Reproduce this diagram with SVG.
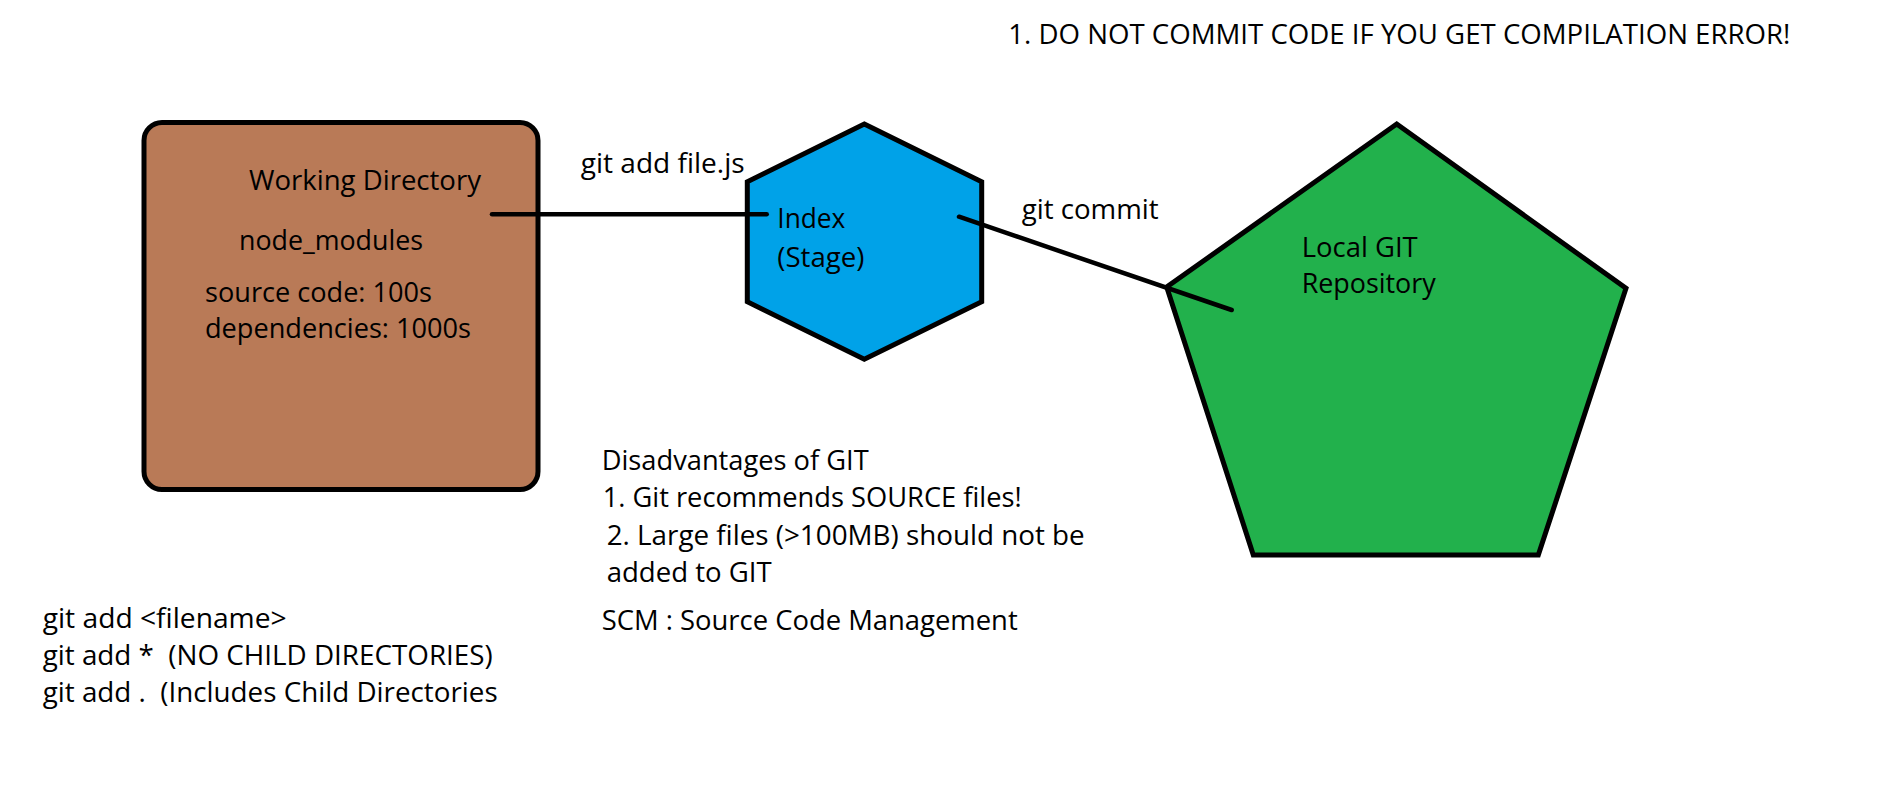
<svg xmlns="http://www.w3.org/2000/svg" width="1892" height="797" viewBox="0 0 1892 797">
<style>
  text { font-family: "Open Sans", "Noto Sans", "Liberation Sans", sans-serif; font-size: 26.5px; fill: #000; }
  .shape { stroke: #000; stroke-width: 5; stroke-linejoin: miter; }
  .conn { stroke: #000; stroke-width: 4.5; stroke-linecap: round; fill: none; }
</style>
<rect width="1892" height="797" fill="#fff"/>
<g id="working-directory">
  <rect class="shape" x="144" y="122.5" width="394" height="367" rx="18" ry="18" fill="#B97A57"/>
  <text x="249" y="190" textLength="232" lengthAdjust="spacingAndGlyphs">Working Directory</text>
  <text x="239" y="250" textLength="184" lengthAdjust="spacingAndGlyphs">node_modules</text>
  <text x="205" y="301.5" textLength="227" lengthAdjust="spacingAndGlyphs">source code: 100s</text>
  <text x="205" y="338" textLength="266" lengthAdjust="spacingAndGlyphs">dependencies: 1000s</text>
</g>
<g id="index-stage">
  <polygon class="shape" points="864.3,124 981.7,181.7 981.7,301.7 864.3,359.3 747.3,301.7 747.3,181.7" fill="#00A2E8"/>
  <text x="777.3" y="228.3" textLength="68" lengthAdjust="spacingAndGlyphs">Index</text>
  <text x="777.3" y="266.5" textLength="87" lengthAdjust="spacingAndGlyphs">(Stage)</text>
</g>
<g id="local-repo">
  <polygon class="shape" points="1396.7,124 1626,288.3 1538.3,555 1253.3,555 1166.7,287" fill="#22B14C"/>
  <text x="1301.7" y="256.7" textLength="116" lengthAdjust="spacingAndGlyphs">Local GIT</text>
  <text x="1301.7" y="293.3" textLength="134" lengthAdjust="spacingAndGlyphs">Repository</text>
</g>
<g id="connectors">
  <line class="conn" x1="492" y1="214.3" x2="766.7" y2="214.3"/>
  <line class="conn" x1="959" y1="216.7" x2="1231.7" y2="310"/>
  <text x="580.7" y="173.3" textLength="164" lengthAdjust="spacingAndGlyphs">git add file.js</text>
  <text x="1021.7" y="219.3" textLength="137" lengthAdjust="spacingAndGlyphs">git commit</text>
</g>
<g id="notes">
  <text x="1008.3" y="44.3" textLength="782" lengthAdjust="spacingAndGlyphs">1. DO NOT COMMIT CODE IF YOU GET COMPILATION ERROR!</text>
  <text x="601.7" y="470" textLength="267" lengthAdjust="spacingAndGlyphs">Disadvantages of GIT</text>
  <text x="602.7" y="506.7" textLength="419" lengthAdjust="spacingAndGlyphs">1. Git recommends SOURCE files!</text>
  <text x="606.7" y="545" textLength="478" lengthAdjust="spacingAndGlyphs">2. Large files (&gt;100MB) should not be</text>
  <text x="606.7" y="581.7" textLength="165" lengthAdjust="spacingAndGlyphs">added to GIT</text>
  <text x="601.7" y="630" textLength="416" lengthAdjust="spacingAndGlyphs">SCM : Source Code Management</text>
  <text x="42.7" y="628.3" textLength="244" lengthAdjust="spacingAndGlyphs">git add &lt;filename&gt;</text>
  <text x="42.7" y="665" textLength="450" lengthAdjust="spacingAndGlyphs" xml:space="preserve">git add *  (NO CHILD DIRECTORIES)</text>
  <text x="42.7" y="701.7" textLength="455" lengthAdjust="spacingAndGlyphs" xml:space="preserve">git add .  (Includes Child Directories</text>
</g>
</svg>
